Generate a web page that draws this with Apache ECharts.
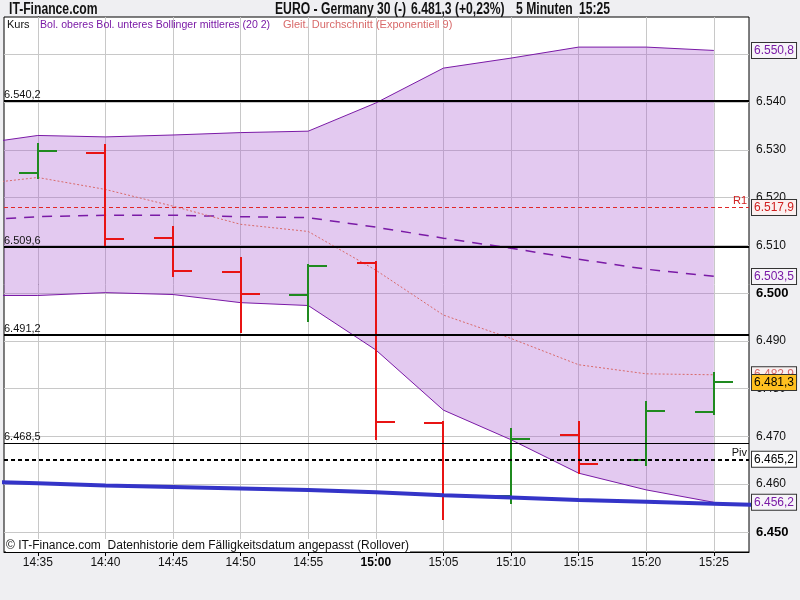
<!DOCTYPE html>
<html><head><meta charset="utf-8">
<script src="https://cdn.jsdelivr.net/npm/echarts@6/dist/echarts.min.js"></script>
<style>html,body{margin:0;padding:0;background:#efeff2;}#c{width:800px;height:600px;}</style>
</head><body><div id="c"></div>
<script>
// ---- data ----
const timeLabels = ['14:35','14:40','14:45','14:50','14:55','15:00','15:05','15:10','15:15','15:20','15:25'];
const barMinutes = [0,5,10,15,20,25,30,35,40,45,50];
const opens  = [6525.2,6529.4,6511.5,6504.5,6499.6,6506.4,6472.9,6457.5,6470.2,6465.1,6475.1];
const highs  = [6531.2,6531.0,6513.8,6507.3,6505.9,6506.5,6473.0,6471.6,6473.0,6477.3,6483.3];
const lows   = [6524.2,6509.9,6503.6,6491.9,6494.2,6469.5,6452.7,6456.0,6462.4,6464.0,6474.6];
const closes = [6529.7,6511.3,6504.7,6499.9,6505.7,6473.0,6457.8,6469.5,6464.2,6475.3,6481.3];

const indMinutes = [-5,0,5,10,15,20,25,30,35,40,45,50];
const bolUpper  = [6531.0,6533.0,6532.7,6533.1,6533.6,6533.9,6539.8,6547.1,6549.2,6551.5,6551.5,6550.8];
const bolLower  = [6499.5,6499.5,6500.1,6499.7,6498.0,6497.4,6488.1,6475.5,6469.3,6462.3,6458.8,6456.2];
const bolMiddle = [6515.2,6516.0,6516.3,6516.3,6516.0,6515.8,6513.8,6511.5,6509.4,6507.1,6505.0,6503.5];
const emaValues = [6522.6,6524.2,6521.7,6518.2,6514.4,6512.9,6504.8,6495.4,6490.5,6485.0,6483.1,6482.9];

const blueMinutes = [-5,0,5,10,15,20,25,30,35,40,45,50,55];
const blueValues  = [6460.6,6460.2,6459.7,6459.4,6459.1,6458.8,6458.3,6457.7,6457.2,6456.7,6456.3,6455.9,6455.5];

const levelLines = [6540.2,6509.6,6491.2,6468.5];
const levelWidths = [2,2,2,1];
const r1Level = 6517.9;
const pivLevel = 6465.2;
const yTicks = [6450,6460,6470,6480,6490,6500,6510,6520,6530,6540,6550];

// ---- helpers ----
function de(v, d) {
  const s = v.toFixed(d); const parts = s.split('.');
  const ip = parts[0].replace(/\B(?=(\d{3})+(?!\d))/g, '.');
  return parts[1] ? ip + ',' + parts[1] : ip;
}
const zip = (xs, ys) => xs.map((x, i) => [x, ys[i]]);
const FONT = "'Liberation Sans', Arial, sans-serif";
const PURPLE = '#7a1aa6';
const SALMON = '#d86a6a';

const chart = echarts.init(document.getElementById('c'), null, {renderer: 'canvas'});

const gridLines = barMinutes.map(m => ({xAxis: m})).concat(yTicks.map(v => ({yAxis: v})));

function box(value, color, bg) {
  return {yAxis: value, label: {show: true, position: 'end', distance: 3, formatter: de(value, 1),
    color: color, backgroundColor: bg, borderColor: '#333', borderWidth: 1, padding: [2, 2, 1, 2],
    fontSize: 12, fontFamily: FONT}};
}
function titleText(x, text) {
  return {type: 'text', x: x, y: 2, scaleX: 0.76, z: 10,
    style: {text: text, font: "bold 16px " + FONT, fill: '#111', verticalAlign: 'top'}};
}

const option = {
  animation: false,
  backgroundColor: '#efeff2',
  grid: {left: 4, right: 51, top: 17, bottom: 48, show: true, backgroundColor: '#ffffff',
         borderColor: '#000', borderWidth: 1},
  xAxis: {
    type: 'value', min: -2.5, max: 52.6,
    axisLine: {show: true, lineStyle: {color: '#000'}},
    axisTick: {show: true, customValues: barMinutes, length: 4, lineStyle: {color: '#000'}},
    splitLine: {show: false},
    axisLabel: {customValues: barMinutes, margin: 5, fontSize: 12, fontFamily: FONT, color: '#111',
      formatter: v => { const t = timeLabels[Math.round(v / 5)]; return t === '15:00' ? '{b|' + t + '}' : t; },
      rich: {b: {fontWeight: 'bold', fontSize: 12, fontFamily: FONT, color: '#000'}}}
  },
  yAxis: {
    type: 'value', position: 'right', min: 6445.8, max: 6557.8,
    axisLine: {show: true, lineStyle: {color: '#000'}},
    axisTick: {show: true, customValues: yTicks, length: 5, lineStyle: {color: '#000'}},
    splitLine: {show: false},
    axisLabel: {customValues: yTicks, margin: 7, fontSize: 12, fontFamily: FONT, color: '#111',
      formatter: v => (v === 6500 || v === 6450) ? '{b|' + de(v, 0) + '}' : de(v, 0),
      rich: {b: {fontWeight: 'bold', fontSize: 13, fontFamily: FONT, color: '#000'}}}
  },
  graphic: [
    titleText(9, 'IT-Finance.com'),
    titleText(275, 'EURO - Germany 30 (-)'),
    titleText(411, '6.481,3 (+0,23%)'),
    titleText(516, '5 Minuten'),
    titleText(579, '15:25'),
    {type: 'text', x: 7, y: 19, z: 10, style: {text: 'Kurs', font: "11px " + FONT, fill: '#111', verticalAlign: 'top'}},
    {type: 'text', x: 40, y: 19, scaleX: 0.96, z: 10, style: {text: 'Bol. oberes Bol. unteres Bollinger mittleres (20 2)', font: "11px " + FONT, fill: PURPLE, verticalAlign: 'top'}},
    {type: 'text', x: 283, y: 19, z: 10, style: {text: 'Gleit. Durchschnitt (Exponentiell 9)', font: "11px " + FONT, fill: SALMON, verticalAlign: 'top'}},
    {type: 'text', left: 6, top: 539, z: 10, style: {text: '\u00a9 IT-Finance.com  Datenhistorie dem F\u00e4lligkeitsdatum angepasst (Rollover)', font: "12px " + FONT, fill: '#111', backgroundColor: '#fff', padding: [1, 1, 0, 0]}}
  ],
  series: [
    {name: 'gridlines', type: 'line', data: [], z: 1, silent: true,
     markLine: {z: 1, silent: true, symbol: 'none', animation: false, label: {show: false},
       lineStyle: {color: '#c8c8c8', width: 1, type: 'solid'}, emphasis: {disabled: true}, data: gridLines}},
    {name: 'band', type: 'custom', z: 2, silent: true, clip: true,
     data: indMinutes.map((m, i) => [m, bolUpper[i], bolLower[i]]),
     encode: {x: 0, y: [1, 2]},
     renderItem: function (params, api) {
       if (params.dataIndex !== 0) return null;
       const top = indMinutes.map((m, i) => api.coord([m, bolUpper[i]]));
       const bot = indMinutes.map((m, i) => api.coord([m, bolLower[i]])).reverse();
       return {type: 'polygon', shape: {points: top.concat(bot)},
         style: {fill: 'rgba(170,90,210,0.33)', stroke: null}};
     }},
    {name: 'Bol. oberes', type: 'line', data: zip(indMinutes, bolUpper), symbol: 'none', z: 3,
     lineStyle: {color: PURPLE, width: 1}},
    {name: 'Bol. unteres', type: 'line', data: zip(indMinutes, bolLower), symbol: 'none', z: 3,
     lineStyle: {color: PURPLE, width: 1}},
    {name: 'Bollinger mittleres', type: 'line', data: zip(indMinutes, bolMiddle), symbol: 'none', z: 3,
     lineStyle: {color: PURPLE, width: 1.5, type: [10, 8]}},
    {name: 'EMA 9', type: 'line', data: zip(indMinutes, emaValues), symbol: 'none', z: 3,
     lineStyle: {color: SALMON, width: 1, type: [2, 2]}},
    {name: 'Kurs', type: 'custom', z: 4,
     data: barMinutes.map((m, i) => [m, opens[i], highs[i], lows[i], closes[i]]),
     encode: {x: 0, y: [1, 2, 3, 4]},
     renderItem: function (params, api) {
       const m = api.value(0), o = api.value(1), h = api.value(2), l = api.value(3), c = api.value(4);
       const R = Math.round;
       const pH = api.coord([m, h]), pL = api.coord([m, l]), pO = api.coord([m, o]), pC = api.coord([m, c]);
       const x = R(pH[0]);
       const col = c >= o ? '#1f8a1f' : '#e81414';
       const st = {stroke: col, lineWidth: 2};
       const t = 19;
       return {type: 'group', children: [
         {type: 'line', shape: {x1: x, y1: R(pH[1]) - 1, x2: x, y2: R(pL[1]) + 1}, style: st},
         {type: 'line', shape: {x1: x - t, y1: R(pO[1]), x2: x, y2: R(pO[1])}, style: st},
         {type: 'line', shape: {x1: x, y1: R(pC[1]), x2: x + t, y2: R(pC[1])}, style: st}
       ]};
     }},
    {name: 'levels', type: 'line', data: [], z: 5, silent: true,
     markLine: {z: 5, silent: true, symbol: 'none', animation: false, emphasis: {disabled: true},
       data: levelLines.map((v, i) => ({yAxis: v, lineStyle: {color: '#000', width: levelWidths[i], type: 'solid'},
         label: {show: true, position: 'insideStartTop', distance: [0, 1], formatter: de(v, 1), color: '#111', fontSize: 11, fontFamily: FONT}}))
         .concat([
           {yAxis: r1Level, lineStyle: {color: '#e02828', width: 1, type: [4, 3]},
            label: {show: true, position: 'insideEndTop', distance: [2, 1], formatter: 'R1', color: '#d02020', fontSize: 11, fontFamily: FONT}},
           {yAxis: pivLevel, lineStyle: {color: '#000', width: 2, type: [4, 3]},
            label: {show: true, position: 'insideEndTop', distance: [2, 1], formatter: 'Piv', color: '#111', fontSize: 11, fontFamily: FONT}}
         ])}},
    {name: 'blue', type: 'line', data: zip(blueMinutes, blueValues), symbol: 'none', z: 6,
     lineStyle: {color: '#3434c8', width: 4}},
    {name: 'boxes', type: 'line', data: [], z: 7, silent: true,
     markLine: {z: 7, silent: true, symbol: 'none', animation: false, emphasis: {disabled: true},
       lineStyle: {color: 'rgba(0,0,0,0)', width: 0},
       data: [
         box(bolUpper[bolUpper.length - 1], PURPLE, '#f6f4f8'),
         box(r1Level, '#d02020', '#fbf0f0'),
         box(bolMiddle[bolMiddle.length - 1], PURPLE, '#f6f4f8'),
         box(emaValues[emaValues.length - 1], SALMON, '#f8f0f0'),
         box(closes[closes.length - 1], '#000', '#ffc020'),
         box(pivLevel, '#000', '#ffffff'),
         box(bolLower[bolLower.length - 1], PURPLE, '#f6f4f8')
       ]}}
  ]
};
chart.setOption(option);
</script></body></html>
